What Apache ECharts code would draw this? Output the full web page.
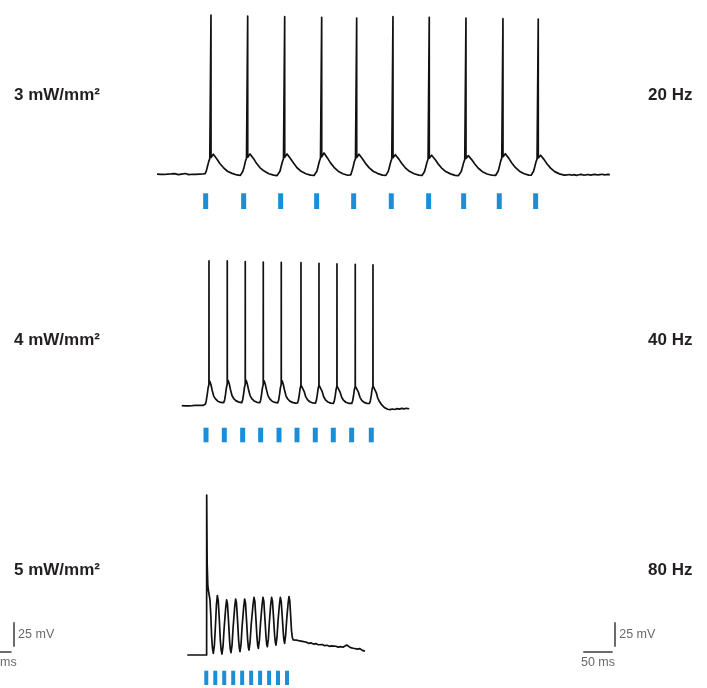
<!DOCTYPE html>
<html>
<head>
<meta charset="utf-8">
<script src="https://cdn.jsdelivr.net/npm/echarts@6/dist/echarts.min.js"></script>
<style>
  html, body { margin: 0; padding: 0; background: #ffffff; }
  #chart { width: 707px; height: 688px; }
</style>
</head>
<body>
<div id="chart"></div>
<script>
// Membrane potential traces (time in ms, potential in mV) under 473 nm light trains.

const intensityLabels = ['3 mW/mm²', '4 mW/mm²', '5 mW/mm²'];
const frequencyLabels = ['20 Hz', '40 Hz', '80 Hz'];

// 3 mW/mm², 20 Hz train
const trace20Hz = [
  [12,-70.2],[15,-69.6],[18,-70.4],[21,-69.8],[24,-70.5],[27,-69.7],[30,-70.1],[33,-70.6],[36,-69.9],[39,-70.3],
  [42,-69.6],[45,-70.2],[48,-70.7],[51,-69.8],[54,-70.1],[57,-70.4],[60,-69.5],[63,-70.2],[66,-70.6],[69,-69.9],
  [72,-70.3],[75,-70.0],[78,-70.5],[81,-69.7],[84,-70.2],[87,-70.4],[90,-70.0],
  [93.7,-69.6],[95.7,-67.1],[97.7,-62.4],[99.7,-57.6],[101.7,-54.2],[103.6,-52.6],[103.7,92.9],[103.8,-53.1],[105.2,-51.4],
  [107.7,-49.8],[110.2,-50.9],[113.7,-54.6],[118.7,-59.2],[124.7,-63.4],[131.7,-67.2],[139.7,-69.4],[147.7,-71.0],[153.7,-71.4],
  [156.1,-70.8],[158.1,-67.0],[160.1,-62.6],[162.1,-57.3],[164.1,-53.9],[166.0,-52.4],[166.1,91.9],[166.2,-52.8],[167.6,-51.3],
  [170.1,-49.5],[172.6,-50.7],[176.1,-54.3],[181.1,-59.1],[187.1,-63.7],[194.1,-67.0],[202.1,-69.8],[210.1,-71.1],[216.1,-71.6],
  [219.0,-70.9],[221.0,-67.2],[223.0,-62.3],[225.0,-57.7],[227.0,-54.1],[228.9,-52.5],[229.0,91.2],[229.1,-53.0],[230.5,-51.6],
  [233.0,-49.5],[235.5,-50.8],[239.0,-54.5],[244.0,-58.8],[250.0,-63.6],[257.0,-67.3],[265.0,-69.7],[273.0,-71.2],[279.0,-71.5],
  [281.9,-70.6],[283.9,-66.9],[285.9,-62.1],[287.9,-57.2],[289.9,-53.6],[291.8,-52.0],[291.9,90.6],[292.0,-52.4],[293.4,-50.8],
  [295.9,-48.5],[298.4,-49.9],[301.9,-53.8],[306.9,-58.6],[312.9,-63.2],[319.9,-67.1],[327.9,-69.7],[335.9,-71.3],[339.0,-71.5],
  [341.4,-70.9],[343.4,-67.0],[345.4,-62.6],[347.4,-57.5],[349.4,-54.0],[351.3,-52.7],[351.4,89.8],[351.5,-53.2],[352.9,-51.6],
  [355.4,-49.8],[357.9,-51.0],[361.4,-54.6],[366.4,-59.1],[372.4,-63.5],[379.4,-67.2],[387.4,-69.6],[395.4,-71.2],[401.0,-71.4],
  [403.1,-70.7],[405.1,-67.3],[407.1,-62.8],[409.1,-57.9],[411.1,-54.3],[413.0,-52.8],[413.1,91.2],[413.2,-53.3],[414.6,-51.9],
  [417.1,-50.2],[419.6,-51.3],[423.1,-54.8],[428.1,-59.3],[434.1,-63.7],[441.1,-67.3],[449.1,-69.8],[457.1,-71.1],[462.5,-71.5],
  [464.8,-70.8],[466.8,-67.4],[468.8,-63.0],[470.8,-58.2],[472.8,-54.7],[474.7,-53.3],[474.8,90.6],[474.9,-53.8],[476.3,-52.4],
  [478.8,-50.8],[481.3,-51.8],[484.8,-55.2],[489.8,-59.6],[495.8,-63.9],[502.8,-67.5],[510.8,-69.9],[518.8,-71.4],[524.5,-71.6],
  [527.2,-70.9],[529.2,-67.5],[531.2,-63.2],[533.2,-58.4],[535.2,-55.0],[537.1,-53.6],[537.2,89.8],[537.3,-54.1],[538.7,-52.7],
  [541.2,-51.2],[543.7,-52.1],[547.2,-55.5],[552.2,-59.8],[558.2,-64.1],[565.2,-67.6],[573.2,-70.0],[581.2,-71.3],[587.5,-71.5],
  [590.1,-70.8],[592.1,-66.9],[594.1,-62.2],[596.1,-57.1],[598.1,-53.5],[600.0,-51.9],[600.1,89.1],[600.2,-52.3],[601.6,-50.7],
  [604.1,-49.2],[606.6,-50.4],[610.1,-54.0],[615.1,-58.7],[621.1,-63.3],[628.1,-67.1],[636.1,-69.7],[644.1,-71.2],[648.0,-71.3],
  [650.1,-70.7],[652.1,-67.2],[654.1,-62.9],[656.1,-58.0],[658.1,-54.5],[660.0,-53.1],[660.1,88.8],[660.2,-53.6],[661.6,-52.2],
  [664.1,-50.8],[666.6,-51.8],[670.1,-55.3],[675.1,-59.7],[681.1,-64.0],[688.1,-67.6],[696.1,-69.9],[704.1,-71.2],
  [709,-71.0],[713,-70.5],[717,-71.3],[721,-70.7],[725,-71.4],[729,-70.8],[733,-70.4],[737,-71.1],[741,-70.9],[745,-70.5],
  [749,-71.2],[753,-70.7],[757,-70.4],[761,-71.0],[765,-70.6],[769,-70.3],[773,-70.9],[777,-70.5],[782,-70.7]
];

// 4 mW/mm², 40 Hz train
const trace40Hz = [
  [54,-70.1],[57,-69.6],[60,-70.4],[63,-69.9],[66,-70.5],[69,-69.7],[72,-70.2],[75,-70.6],[78,-69.8],[81,-70.3],
  [84,-69.9],[87,-70.4],[90,-70.0],[93,-69.8],
  [94.3,-68.6],[95.8,-64.6],[97.3,-58.9],[98.8,-52.1],[100.2,-48.6],[100.3,78.1],[100.4,-48.2],[102.0,-45.6],[103.8,-49.0],
  [105.8,-54.7],[108.3,-60.4],[111.3,-63.3],[115.3,-65.6],[120.3,-66.9],[122.3,-67.1],
  [125.4,-67.0],[126.9,-64.3],[128.4,-58.7],[129.9,-51.8],[131.3,-48.2],[131.4,78.1],[131.5,-47.7],[133.1,-44.6],[134.9,-48.2],
  [136.9,-53.9],[139.4,-59.8],[142.4,-62.9],[146.4,-65.3],[151.4,-66.6],[153.4,-66.9],
  [156.0,-67.1],[157.5,-64.4],[159.0,-58.8],[160.5,-51.9],[161.9,-48.3],[162.0,77.3],[162.1,-47.8],[163.7,-44.6],[165.5,-48.1],
  [167.5,-53.7],[170.0,-59.6],[173.0,-63.1],[177.0,-65.4],[182.0,-66.8],[184.0,-67.0],
  [186.6,-67.2],[188.1,-64.6],[189.6,-59.1],[191.1,-52.2],[192.5,-48.6],[192.6,77.0],[192.7,-48.1],[194.3,-44.9],[196.1,-48.4],
  [198.1,-54.0],[200.6,-59.9],[203.6,-63.2],[207.6,-65.6],[212.6,-66.9],[214.6,-67.2],
  [217.2,-67.3],[218.7,-64.7],[220.2,-59.0],[221.7,-52.0],[223.1,-48.5],[223.2,76.7],[223.3,-48.0],[224.9,-44.9],[226.7,-48.5],
  [228.7,-54.2],[231.2,-60.1],[234.2,-63.4],[238.2,-65.8],[243.2,-67.1],[247.2,-67.6],
  [250.7,-67.5],[252.2,-64.9],[253.7,-59.6],[255.2,-52.8],[256.6,-49.5],[256.7,76.3],[256.8,-49.2],[258.4,-47.3],[260.2,-50.6],
  [262.2,-55.8],[264.7,-61.0],[267.7,-64.0],[271.7,-66.2],[276.7,-67.5],[278.7,-67.7],
  [281.3,-67.6],[282.8,-65.0],[284.3,-59.7],[285.8,-52.9],[287.2,-49.6],[287.3,75.7],[287.4,-49.2],[289.0,-47.3],[290.8,-50.7],
  [292.8,-55.9],[295.3,-61.1],[298.3,-64.2],[302.3,-66.4],[307.3,-67.6],[309.3,-67.8],
  [311.9,-67.8],[313.4,-65.3],[314.9,-60.2],[316.4,-53.5],[317.8,-50.4],[317.9,75.0],[318.0,-50.1],[319.6,-48.3],[321.4,-51.5],
  [323.4,-56.6],[325.9,-61.6],[328.9,-64.6],[332.9,-66.7],[337.9,-67.8],[340.9,-68.0],
  [343.0,-67.9],[344.5,-65.4],[346.0,-60.3],[347.5,-53.6],[348.9,-50.5],[349.0,74.7],[349.1,-50.2],[350.7,-48.3],[352.5,-51.6],
  [354.5,-56.7],[357.0,-61.7],[360.0,-64.7],[364.0,-66.8],[369.0,-67.9],[371.0,-68.1],
  [373.1,-68.0],[374.6,-65.4],[376.1,-60.2],[377.6,-53.4],[379.0,-50.2],[379.1,74.0],[379.2,-49.9],[380.8,-48.0],[382.6,-51.4],
  [384.6,-56.8],[387.1,-62.2],[390.1,-66.0],[394.1,-69.5],[399.1,-72.4],[404.1,-73.9],[408.1,-74.3],
  [412,-73.6],[416,-74.1],[420,-73.2],[424,-73.8],[428,-73.0],[432,-73.5],[436,-72.9],[440.8,-73.4]
];

// 5 mW/mm², 80 Hz train
const trace80Hz = [
  [63.4,-70.0],[80.0,-70.0],[96.3,-70.0],[96.4,93.9],[97.2,24.0],[98.3,2.0],[99.2,-3.4],[100.5,-8.0],[102.0,-13.6],
  [103.5,-30.0],[104.8,-51.2],[106.2,-63.0],[107.7,-68.3],
  [109.5,-60],[111.3,-40],[112.9,-19],[114.5,-9.2],[116.0,-14],[117.8,-33],[119.6,-55],[121.0,-65],[122.4,-69.0],
  [124.2,-61],[126.1,-42],[128.7,-22],[130.3,-13.6],[131.8,-18],[133.6,-36],[135.4,-56],[136.5,-64],[137.7,-67.6],
  [139.5,-60],[141.4,-41],[144.0,-21],[145.6,-12.6],[147.1,-17],[148.9,-35],[150.7,-55],[151.9,-63],[153.0,-66.6],
  [154.8,-59],[156.7,-40],[159.3,-21],[160.9,-12.6],[162.4,-17],[164.2,-35],[166.0,-54],[167.2,-62],[168.3,-64.9],
  [170.1,-57],[172.2,-38],[175.1,-19],[176.8,-10.9],[178.3,-15],[180.1,-33],[181.9,-52],[183.1,-60],[184.2,-63.2],
  [186.0,-55],[188.0,-37],[190.5,-19],[192.1,-10.9],[193.6,-15],[195.4,-33],[197.2,-51],[198.4,-59],[199.5,-61.5],
  [201.2,-54],[203.0,-36],[205.3,-18],[206.8,-10.9],[208.3,-15],[210.1,-32],[211.9,-50],[213.1,-57],[214.2,-59.8],
  [215.9,-52],[217.7,-35],[220.1,-18],[221.6,-10.9],[223.1,-15],[224.9,-31],[226.7,-48],[227.8,-55],[228.9,-58.1],
  [230.6,-50],[232.4,-34],[234.8,-17],[236.3,-10.2],[237.6,-14],[239.0,-28],[240.6,-45],[242.0,-52],[243.6,-54.6],
  [246,-55.5],[249,-54.8],[252,-56.1],[255,-55.6],[258,-56.8],[261,-56.2],[264,-57.4],[266.4,-57.0],[270,-58.1],
  [274,-57.6],[278,-58.8],[282,-58.3],[286,-59.5],[289,-59.8],[293,-59.2],[297,-60.4],[301,-60.0],[305,-61.1],
  [309,-60.6],[311.6,-61.5],[316,-61.0],[320,-61.9],[324,-61.4],[328,-62.0],[331,-60.8],[334.4,-59.8],[337,-61.2],
  [341,-62.4],[345.6,-63.1],[349,-62.6],[353,-64.0],[357,-63.5],[361,-65.2],[365.5,-66.0]
];

// Light pulse onsets (ms) and pulse widths (ms)
const pulses20Hz = [90.4, 155.0, 217.9, 279.1, 342.0, 406.0, 469.5, 529.0, 589.6, 651.4];
const pulses40Hz = [91.0, 122.1, 153.3, 183.9, 215.1, 245.7, 276.8, 307.4, 338.6, 372.0];
const pulses80Hz = [92.3, 107.6, 122.8, 138.1, 153.3, 168.6, 183.8, 199.1, 214.3, 229.6];
const pulseWidths = [8.5, 8.5, 6.8];

// Scale bar lengths
const scaleTimeMs = 50;
const scaleVoltMv = 25;
const scaleTimeLabel = '50 ms';
const scaleVoltLabel = '25 mV';

// ---- layout and styling ----
const traceColor = '#111111';
const lightBlue = '#1a8fd8';
const labelFont = "'Liberation Sans', Arial, Helvetica, sans-serif";
const timeRange = { min: -255, max: 947 };

const traceGrids = [
  { top: 3.2, height: 190.3, ymin: -90, ymax: 105 },
  { top: 249.3, height: 170.8, ymin: -85, ymax: 90 },
  { top: 479.3, height: 180.6, ymin: -75, ymax: 110 }
];
const pulseGrids = [
  { top: 193.3, height: 15.7 },
  { top: 427.7, height: 14.6 },
  { top: 670.7, height: 14.3 }
];
const labelY = [97, 342, 572];

const grids = [];
const xAxes = [];
const yAxes = [];
traceGrids.concat(pulseGrids).forEach(function (g, i) {
  grids.push({ left: 0, width: 707, top: g.top, height: g.height, containLabel: false });
  xAxes.push({ type: 'value', gridIndex: i, min: timeRange.min, max: timeRange.max, show: false });
  const isTrace = i < 3;
  yAxes.push({ type: 'value', gridIndex: i, min: isTrace ? g.ymin : 0, max: isTrace ? g.ymax : 1, show: false });
});

const series = [];
[trace20Hz, trace40Hz, trace80Hz].forEach(function (tr, i) {
  series.push({
    type: 'line', xAxisIndex: i, yAxisIndex: i, data: tr,
    showSymbol: false, symbol: 'none', smooth: false,
    lineStyle: { color: traceColor, width: 1.7, join: 'round' },
    silent: true, animation: false
  });
});

[pulses20Hz, pulses40Hz, pulses80Hz].forEach(function (onsets, i) {
  const w = pulseWidths[i];
  series.push({
    type: 'custom', xAxisIndex: 3 + i, yAxisIndex: 3 + i,
    data: onsets.map(function (t) { return [t, t + w]; }),
    encode: { x: [0, 1] },
    renderItem: function (params, api) {
      const a = api.coord([api.value(0), 1]);
      const b = api.coord([api.value(1), 0]);
      return { type: 'rect', shape: { x: a[0], y: a[1], width: b[0] - a[0], height: b[1] - a[1] }, style: { fill: lightBlue } };
    },
    silent: true, animation: false
  });
});

// Scale bars, drawn in the 80 Hz panel's time/voltage coordinates.
// One set at the right edge, a second one partly cut by the left edge.
const barAnchors = [
  { t: 736.6, v: -66.2, vt: 791.0, vv: -61.5, labelT: 761.6 },
  { t: -285.4, v: -66.2, vt: -231.0, vv: -61.5, labelT: -255.5 }
];
const barSegments = [];
const barLabels = [];
barAnchors.forEach(function (a) {
  barSegments.push({ coords: [[a.t, a.v], [a.t + scaleTimeMs, a.v]] });
  barSegments.push({ coords: [[a.vt, a.vv], [a.vt, a.vv + scaleVoltMv]] });
  barLabels.push({ value: [a.labelT, a.v], name: scaleTimeLabel, label: { position: 'bottom', distance: 5 } });
  barLabels.push({ value: [a.vt, a.vv + scaleVoltMv / 2], name: scaleVoltLabel, label: { position: 'right', distance: 4 } });
});
series.push({
  type: 'lines', coordinateSystem: 'cartesian2d', xAxisIndex: 2, yAxisIndex: 2,
  data: barSegments, lineStyle: { color: '#3a3a3a', width: 1.5, opacity: 1, curveness: 0 },
  silent: true, animation: false
});
series.push({
  type: 'scatter', xAxisIndex: 2, yAxisIndex: 2, data: barLabels,
  symbolSize: 0, clip: false, silent: true, animation: false,
  label: {
    show: true, formatter: function (p) { return p.name; },
    color: '#444444', fontSize: 12.5, fontFamily: labelFont
  }
});

const graphics = [];
intensityLabels.forEach(function (txt, i) {
  graphics.push({
    type: 'text', left: 14, top: labelY[i] - 10,
    style: { text: txt, fill: '#231f20', font: 'bold 17px ' + labelFont, textVerticalAlign: 'top' }
  });
});
frequencyLabels.forEach(function (txt, i) {
  graphics.push({
    type: 'text', left: 648, top: labelY[i] - 10,
    style: { text: txt, fill: '#231f20', font: 'bold 17px ' + labelFont, textVerticalAlign: 'top' }
  });
});

const chart = echarts.init(document.getElementById('chart'), null, { renderer: 'canvas' });
chart.setOption({
  backgroundColor: '#ffffff',
  animation: false,
  grid: grids,
  xAxis: xAxes,
  yAxis: yAxes,
  series: series,
  graphic: graphics
});
</script>
</body>
</html>
